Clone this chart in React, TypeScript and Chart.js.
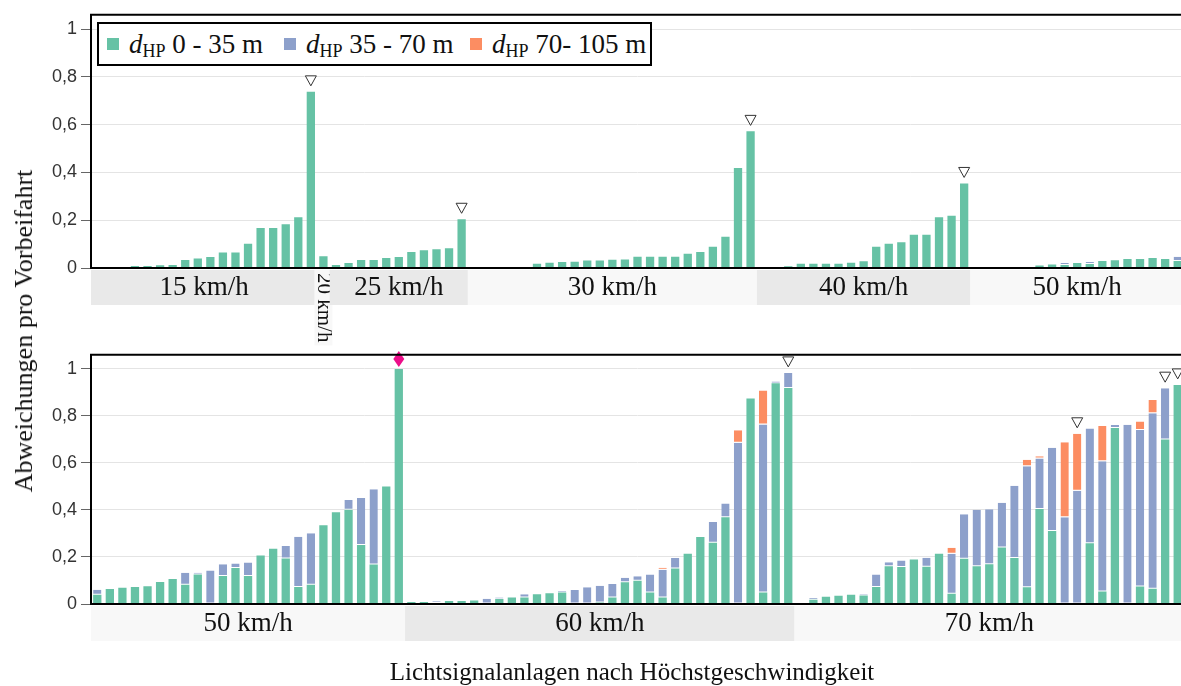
import React, { useEffect, useRef } from 'react';
import { Chart, registerables } from 'chart.js';
Chart.register(...registerables);

// ---------- data ----------
const seriesNames = ['0 - 35 m', '35 - 70 m', '70- 105 m'];
const seriesColors = ['#66c2a5', '#8da0cb', '#fc8d62'];

const yTicks = [0, 0.2, 0.4, 0.6, 0.8, 1];
const yTickLabels = ['0', '0,2', '0,4', '0,6', '0,8', '1'];

// top row groups
const topGroups = ['15 km/h', '20 km/h', '25 km/h', '30 km/h', '40 km/h', '50 km/h'];
const topGroupSizes = [18, 1, 11, 23, 17, 17];
// bottom row groups
const bottomGroups = ['50 km/h', '60 km/h', '70 km/h'];
const bottomGroupSizes = [25, 31, 31];

const topGreen = [
  0, 0.002, 0.004, 0.008, 0.008, 0.011, 0.0125, 0.033, 0.04, 0.046, 0.065, 0.065, 0.101, 0.167, 0.167, 0.183, 0.2125, 0.7375,
  0.049,
  0.0125, 0.021, 0.033, 0.033, 0.042, 0.046, 0.067, 0.074, 0.079, 0.083, 0.204,
  0.001, 0.002, 0.003, 0.004, 0.004, 0.018, 0.022, 0.025, 0.026, 0.031, 0.031, 0.035, 0.036, 0.047, 0.047, 0.047, 0.047, 0.06, 0.067, 0.089, 0.131, 0.419, 0.572,
  0.004, 0.004, 0.007, 0.018, 0.018, 0.018, 0.018, 0.022, 0.028, 0.089, 0.101, 0.108, 0.139, 0.139, 0.2125, 0.219, 0.354,
  0, 0.001, 0.004, 0.004, 0.004, 0.01, 0.015, 0.013, 0.021, 0.017, 0.029, 0.032, 0.0375, 0.0375, 0.042, 0.0375, 0.029,
];
const topBlue = [
  0, 0, 0, 0, 0, 0, 0, 0, 0, 0, 0, 0, 0, 0, 0, 0, 0, 0,
  0,
  0, 0, 0, 0, 0, 0, 0, 0, 0, 0, 0,
  0, 0, 0, 0, 0, 0, 0, 0, 0, 0, 0, 0, 0, 0, 0, 0, 0, 0, 0, 0, 0, 0, 0,
  0, 0, 0, 0, 0, 0, 0, 0, 0, 0, 0, 0, 0, 0, 0, 0, 0,
  0, 0, 0, 0, 0, 0, 0, 0.008, 0, 0.008, 0, 0, 0, 0, 0, 0, 0.018,
];
const topOrange = [
  0, 0, 0, 0, 0, 0, 0, 0, 0, 0, 0, 0, 0, 0, 0, 0, 0, 0,
  0,
  0, 0, 0, 0, 0, 0, 0, 0, 0, 0, 0,
  0, 0, 0, 0, 0, 0, 0, 0, 0, 0, 0, 0, 0, 0, 0, 0, 0, 0, 0, 0, 0, 0, 0,
  0, 0, 0, 0, 0, 0, 0, 0, 0, 0, 0, 0, 0, 0, 0, 0, 0,
  0, 0, 0, 0, 0, 0, 0, 0, 0, 0, 0, 0, 0, 0, 0, 0, 0,
];

const bottomGreen = [
  0.039, 0.064, 0.069, 0.072, 0.076, 0.094, 0.106, 0.082, 0.126, 0, 0.119, 0.153, 0.119, 0.206, 0.235, 0.194, 0.072, 0.082, 0.335, 0.39, 0.401, 0.251, 0.168, 0.5, 1.0,
  0.008, 0.008, 0.004, 0.0125, 0.0125, 0.015, 0.002, 0.021, 0.028, 0.028, 0.042, 0.046, 0.049, 0, 0, 0.006, 0.028, 0.093, 0.099, 0.049, 0.028, 0.151, 0.214, 0.285, 0.261, 0.369, 0, 0.874, 0.049, 0.939, 0.919,
  0.004, 0.018, 0.031, 0.035, 0.039, 0.036, 0.072, 0.161, 0.157, 0.189, 0.158, 0.214, 0.044, 0.192, 0.161, 0.169, 0.24, 0.196, 0.071, 0.404, 0.311, 0, 0, 0.258, 0.053, 0.749, 0, 0.074, 0.065, 0.7, 0.932,
];
const bottomBlue = [
  0.022, 0, 0, 0, 0, 0, 0, 0.051, 0.007, 0.143, 0.05, 0.019, 0.057, 0, 0, 0.053, 0.214, 0.219, 0, 0, 0.041, 0.2, 0.32, 0, 0,
  0, 0, 0.008, 0, 0, 0, 0.02, 0.007, 0, 0.014, 0, 0, 0.005, 0.06, 0.071, 0.072, 0.057, 0.019, 0.019, 0.077, 0.118, 0.045, 0, 0, 0.088, 0.059, 0.686, 0, 0.715, 0.007, 0.064,
  0, 0.008, 0, 0, 0, 0.006, 0.054, 0.017, 0.028, 0, 0.039, 0, 0.17, 0.19, 0.24, 0.234, 0.191, 0.307, 0.515, 0.215, 0.354, 0.369, 0.482, 0.489, 0.554, 0.012, 0.7625, 0.666, 0.746, 0.218, 0,
];
const bottomOrange = [
  0, 0, 0, 0, 0, 0, 0, 0, 0, 0, 0, 0, 0, 0, 0, 0, 0, 0, 0, 0, 0, 0, 0, 0, 0,
  0, 0, 0, 0, 0, 0, 0, 0, 0, 0, 0, 0, 0, 0, 0, 0, 0, 0, 0, 0, 0.008, 0, 0, 0, 0, 0, 0.053, 0, 0.144, 0, 0,
  0, 0, 0, 0, 0, 0, 0, 0, 0, 0, 0, 0, 0.025, 0, 0, 0, 0, 0, 0.028, 0.01, 0, 0.3185, 0.242, 0, 0.15, 0, 0, 0.036, 0.057, 0, 0,
];

// marked bars
const topTriangleIdx = [17, 29, 52, 69];
const bottomTriangleIdx = [55, 78, 85, 86];
const bottomDiamondIdx = [24];

// ---------- chart helpers ----------
const SERIF = '"Liberation Serif", "Times New Roman", serif';
const BAND_DARK = '#e9e9e9';
const BAND_LIGHT = '#f8f8f8';

function buildConfig(
  green: number[], blue: number[], orange: number[],
  groups: string[], sizes: number[], shades: string[],
  triangles: number[], diamonds: number[], padTop: number, padBottom: number,
) {
  const labels = green.map((_, i) => String(i + 1));
  const series = [green, blue, orange];

  const decor = {
    id: 'decor',
    afterDatasetsDraw(chart: any) {
      const { ctx, scales } = chart;
      const xs = scales.x, ys = scales.y;
      const total = (i: number) => series.reduce((s, arr) => s + arr[i], 0);
      ctx.save();
      triangles.forEach((i) => {
        const x = xs.getPixelForValue(i);
        const y = ys.getPixelForValue(total(i));
        ctx.beginPath();
        ctx.moveTo(x - 5.5, y - 16);
        ctx.lineTo(x + 5.5, y - 16);
        ctx.lineTo(x, y - 6);
        ctx.closePath();
        ctx.fillStyle = '#fff';
        ctx.fill();
        ctx.strokeStyle = '#333';
        ctx.lineWidth = 1;
        ctx.stroke();
      });
      diamonds.forEach((i) => {
        const x = xs.getPixelForValue(i);
        const y = ys.getPixelForValue(total(i)) - 10;
        ctx.beginPath();
        ctx.moveTo(x, y - 8);
        ctx.lineTo(x + 5.5, y);
        ctx.lineTo(x, y + 8);
        ctx.lineTo(x - 5.5, y);
        ctx.closePath();
        ctx.fillStyle = '#ec0e8a';
        ctx.fill();
      });
      ctx.restore();
    },
    afterDraw(chart: any) {
      const { ctx, chartArea, scales } = chart;
      const xs = scales.x;
      const half = (xs.getPixelForValue(1) - xs.getPixelForValue(0)) / 2;
      const bandTop = chartArea.bottom + 2;
      const bandH = 35;
      ctx.save();
      let start = 0;
      groups.forEach((g, gi) => {
        const n = sizes[gi];
        const x0 = xs.getPixelForValue(start) - half;
        const x1 = xs.getPixelForValue(start + n - 1) + half;
        const cx = (x0 + x1) / 2;
        if (n > 1) {
          ctx.fillStyle = shades[gi];
          ctx.fillRect(x0, bandTop, x1 - x0, bandH);
          ctx.fillStyle = '#111';
          ctx.font = '27px ' + SERIF;
          ctx.textAlign = 'center';
          ctx.textBaseline = 'middle';
          ctx.fillText(g, cx, bandTop + bandH / 2);
        } else {
          ctx.font = '21px ' + SERIF;
          const w = ctx.measureText(g).width;
          ctx.fillStyle = shades[gi];
          ctx.fillRect(cx - 9, bandTop, 18, w + 6);
          ctx.fillStyle = '#111';
          ctx.translate(cx, bandTop + 3);
          ctx.rotate(Math.PI / 2);
          ctx.textAlign = 'left';
          ctx.textBaseline = 'middle';
          ctx.fillText(g, 0, 0);
          ctx.setTransform(1, 0, 0, 1, 0, 0);
        }
        start += n;
      });
      // frame
      ctx.strokeStyle = '#000';
      ctx.lineWidth = 2;
      ctx.beginPath();
      ctx.moveTo(chartArea.right + 2, chartArea.top);
      ctx.lineTo(chartArea.left, chartArea.top);
      ctx.lineTo(chartArea.left, chartArea.bottom);
      ctx.lineTo(chartArea.right + 2, chartArea.bottom);
      ctx.stroke();
      ctx.restore();
    },
  };

  return {
    type: 'bar',
    data: {
      labels,
      datasets: series.map((arr, k) => ({
        label: seriesNames[k],
        data: arr,
        backgroundColor: seriesColors[k],
        borderColor: '#ffffff',
        borderWidth: k === 0 ? 0 : { top: 0, left: 0, right: 0, bottom: 1 },
        borderSkipped: false,
        barPercentage: 0.66,
        categoryPercentage: 1,
        stack: 's',
      })),
    },
    options: {
      responsive: false,
      animation: false,
      devicePixelRatio: 1,
      layout: { padding: { top: padTop, bottom: padBottom, left: 0, right: 0 } },
      plugins: { legend: { display: false }, tooltip: { enabled: false }, title: { display: false } },
      scales: {
        x: { type: 'category', display: false, stacked: true, offset: true },
        y: {
          stacked: true,
          min: 0,
          max: 1.06,
          afterFit: (s: any) => { s.width = 91; },
          afterBuildTicks: (s: any) => { s.ticks = yTicks.map((v) => ({ value: v })); },
          ticks: {
            callback: (_v: any, idx: number) => yTickLabels[idx],
            font: { family: '"Liberation Sans", Arial, sans-serif', size: 18 },
            color: '#333',
            padding: 4,
          },
          grid: { color: '#e4e4e4', lineWidth: 1, tickColor: '#666', tickLength: 10, drawTicks: true },
          border: { display: false },
        },
      },
    },
    plugins: [decor],
  };
}

function RowChart(props: {
  green: number[]; blue: number[]; orange: number[];
  groups: string[]; sizes: number[]; shades: string[];
  triangles: number[]; diamonds: number[];
  top: number; height: number; padTop: number; padBottom: number;
}) {
  const ref = useRef<HTMLCanvasElement | null>(null);
  useEffect(() => {
    if (!ref.current) return;
    const cfg: any = buildConfig(props.green, props.blue, props.orange, props.groups, props.sizes, props.shades,
      props.triangles, props.diamonds, props.padTop, props.padBottom);
    const chart = new Chart(ref.current, cfg);
    return () => chart.destroy();
  }, []);
  return (
    <canvas
      ref={ref}
      width={1184}
      height={props.height}
      style={{ position: 'absolute', left: 0, top: props.top, width: 1184, height: props.height }}
    />
  );
}

const legendItemLeft = [8, 185, 371];

export default function App() {
  useEffect(() => {
    document.body.style.margin = '0';
  }, []);
  return (
    <div style={{ position: 'relative', width: 1181, height: 686, overflow: 'hidden', background: '#fff' }}>
      <RowChart
        green={topGreen} blue={topBlue} orange={topOrange}
        groups={topGroups} sizes={topGroupSizes}
        shades={[BAND_DARK, BAND_LIGHT, BAND_DARK, BAND_LIGHT, BAND_DARK, BAND_LIGHT]}
        triangles={topTriangleIdx} diamonds={[]}
        top={0} height={348} padTop={14} padBottom={80}
      />
      <RowChart
        green={bottomGreen} blue={bottomBlue} orange={bottomOrange}
        groups={bottomGroups} sizes={bottomGroupSizes}
        shades={[BAND_LIGHT, BAND_DARK, BAND_LIGHT]}
        triangles={bottomTriangleIdx} diamonds={bottomDiamondIdx}
        top={340} height={346} padTop={9} padBottom={82}
      />
      <div
        style={{
          position: 'absolute', left: 97, top: 22, width: 555, height: 44,
          border: '2px solid #000', boxSizing: 'border-box', background: '#fff',
        }}
      >
        {seriesNames.map((name, k) => (
          <div
            key={k}
            style={{
              position: 'absolute', left: legendItemLeft[k], top: 0, height: 40,
              display: 'flex', alignItems: 'center', whiteSpace: 'nowrap',
              fontFamily: SERIF, fontSize: 27, color: '#111',
            }}
          >
            <span style={{ display: 'inline-block', width: 12, height: 12, background: seriesColors[k], marginRight: 10 }} />
            <span>
              <i>d</i>
              <sub style={{ fontSize: 18, lineHeight: 0, verticalAlign: '-4px' }}>HP</sub>
              {' ' + name}
            </span>
          </div>
        ))}
      </div>
      <div
        style={{
          position: 'absolute', left: 24, top: 331, transform: 'translate(-50%, -50%) rotate(-90deg)',
          whiteSpace: 'nowrap', fontFamily: SERIF, fontSize: 26, color: '#111',
        }}
      >
        Abweichungen pro Vorbeifahrt
      </div>
      <div
        style={{
          position: 'absolute', left: 632, top: 672, transform: 'translate(-50%, -50%)',
          whiteSpace: 'nowrap', fontFamily: SERIF, fontSize: 25, color: '#111',
        }}
      >
        Lichtsignalanlagen nach Höchstgeschwindigkeit
      </div>
    </div>
  );
}
